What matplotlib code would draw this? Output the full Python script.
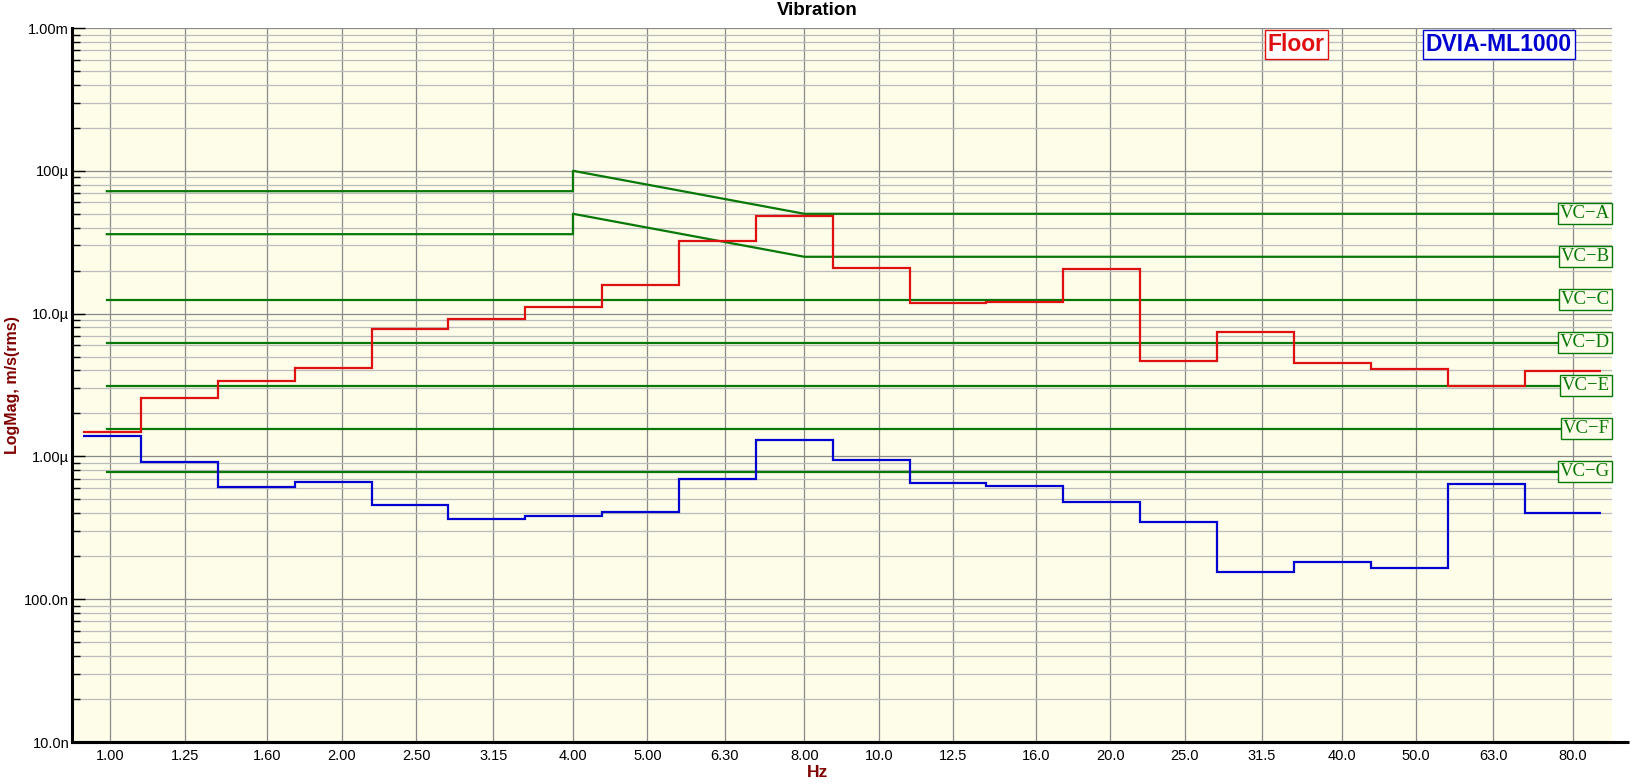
import numpy as np
import matplotlib
matplotlib.use("Agg")
import matplotlib.pyplot as plt
from matplotlib.ticker import LogLocator, NullFormatter, FixedLocator

plt.rcParams['font.family'] = ['Liberation Sans', 'DejaVu Sans']

# 1/3 octave bands, Hz
band_labels = ['1.00', '1.25', '1.60', '2.00', '2.50', '3.15', '4.00', '5.00', '6.30', '8.00',
               '10.0', '12.5', '16.0', '20.0', '25.0', '31.5', '40.0', '50.0', '63.0', '80.0']
band_hz = [1.00, 1.25, 1.60, 2.00, 2.50, 3.15, 4.00, 5.00, 6.30, 8.00,
           10.0, 12.5, 16.0, 20.0, 25.0, 31.5, 40.0, 50.0, 63.0, 80.0]

# velocity, micrometres per second (rms)
floor_um = [1.48, 2.55, 3.35, 4.15, 7.75, 9.2, 11.1, 15.8, 32.0, 48.0,
            20.7, 11.9, 12.1, 20.4, 4.65, 7.42, 4.5, 4.1, 3.09, 3.94]
dvia_um = [1.39, 0.912, 0.61, 0.66, 0.454, 0.364, 0.382, 0.405, 0.693, 1.30,
           0.942, 0.647, 0.617, 0.476, 0.345, 0.155, 0.181, 0.165, 0.637, 0.399]

# vibration criteria curves
vc_names = ['VC\u2212A', 'VC\u2212B', 'VC\u2212C', 'VC\u2212D', 'VC\u2212E', 'VC\u2212F', 'VC\u2212G']
vc_hz = [0.99, 4.0, 4.0, 8.0, 90.0]
vc_a_um = [72, 72, 100, 50, 50]
vc_b_um = [36, 36, 50, 25, 25]
vc_flat_um = [12.5, 6.25, 3.12, 1.56, 0.78]

y_ticks = [1e-8, 1e-7, 1e-6, 1e-5, 1e-4, 1e-3]
y_tick_labels = ['10.0n', '100.0n', '1.00\u00b5', '10.0\u00b5', '100\u00b5', '1.00m']

BG = '#fdfde9'
RED = '#e01010'
BLUE = '#0000d0'
GREEN = '#087808'
DARKRED = '#800000'

fig = plt.figure(figsize=(16.35, 7.84), dpi=100)
ax = fig.add_axes([0.04404, 0.05357, 0.94189, 0.9107])
ax.set_facecolor(BG)
ax.set_xscale('log')
ax.set_yscale('log')
ax.set_xlim(0.892, 89.9)
ax.set_ylim(1e-8, 1e-3)

# band edges for the step traces
k = np.arange(len(band_hz))
edges = np.concatenate([[10 ** -0.035], 10 ** ((k + 0.4) / 10)])
floor = np.array(floor_um) * 1e-6
dvia = np.array(dvia_um) * 1e-6

lw = 1.6
ax.stairs(floor, edges, baseline=None, color=RED, lw=lw, zorder=4)
ax.stairs(dvia, edges, baseline=None, color=BLUE, lw=lw, zorder=4)

ax.plot(vc_hz, np.array(vc_a_um) * 1e-6, color=GREEN, lw=lw, zorder=3)
ax.plot(vc_hz, np.array(vc_b_um) * 1e-6, color=GREEN, lw=lw, zorder=3)
for v in vc_flat_um:
    ax.plot([vc_hz[0], vc_hz[-1]], [v * 1e-6, v * 1e-6], color=GREEN, lw=lw, zorder=3)

vc_end = [vc_a_um[-1], vc_b_um[-1]] + vc_flat_um
for name, v in zip(vc_names, vc_end):
    ax.text(0.9985, v * 1e-6, name, transform=ax.get_yaxis_transform(),
            ha='right', va='center', color=GREEN, fontsize=13.5,
            family=['Liberation Serif', 'DejaVu Serif'], zorder=6,
            bbox=dict(boxstyle='square,pad=0.1', fc=BG, ec=GREEN, lw=1.0))

# axes styling
ax.xaxis.set_major_locator(FixedLocator(band_hz))
ax.set_xticklabels(band_labels)
ax.xaxis.set_minor_locator(FixedLocator([]))
ax.tick_params(axis='x', which='both', length=0, pad=5, labelsize=10.5)

ax.set_yticks(y_ticks)
ax.set_yticklabels(y_tick_labels)
ax.yaxis.set_minor_locator(LogLocator(base=10, subs=np.arange(2, 10)))
ax.yaxis.set_minor_formatter(NullFormatter())
ax.tick_params(axis='y', which='major', direction='in', length=9, width=1, pad=2, labelsize=10.5)
ax.tick_params(axis='y', which='minor', direction='in', length=6, width=1)

ax.grid(True, which='major', axis='both', color='#8a8a8a', lw=0.9, zorder=1)
ax.grid(True, which='minor', axis='y', color='#bcbcbc', lw=0.9, zorder=1)
ax.set_axisbelow(True)

for s in ['top', 'right']:
    ax.spines[s].set_visible(False)
for s in ['left', 'bottom']:
    ax.spines[s].set_linewidth(2.2)
    ax.spines[s].set_color('black')
ax.plot([0, 1.011], [0, 0], transform=ax.transAxes, color='black', lw=2.2,
        clip_on=False, solid_capstyle='butt', zorder=7)

fig.text(0.5, 0.986, 'Vibration', ha='center', va='center', fontsize=13.5, fontweight='bold')
fig.text(0.0075, 0.509, 'LogMag, m/s(rms)', rotation=90, ha='center', va='center',
         fontsize=11.5, fontweight='bold', color=DARKRED)
fig.text(0.5, 0.015, 'Hz', ha='center', va='center', fontsize=12.5, fontweight='bold',
         color=DARKRED, family=['Liberation Sans Narrow', 'Liberation Sans'])

# legend tags
ax.text(0.795, 0.977, 'Floor', transform=ax.transAxes, ha='center', va='center',
        fontsize=16.5, fontweight='bold', color=RED, zorder=8,
        bbox=dict(boxstyle='square,pad=0.12', fc='white', ec=RED, lw=1.0))
ax.text(0.9266, 0.977, 'DVIA-ML1000', transform=ax.transAxes, ha='center', va='center',
        fontsize=16.5, fontweight='bold', color=BLUE, zorder=8,
        bbox=dict(boxstyle='square,pad=0.12', fc='white', ec=BLUE, lw=1.0))

fig.savefig('out.png', dpi=100, facecolor='white')
